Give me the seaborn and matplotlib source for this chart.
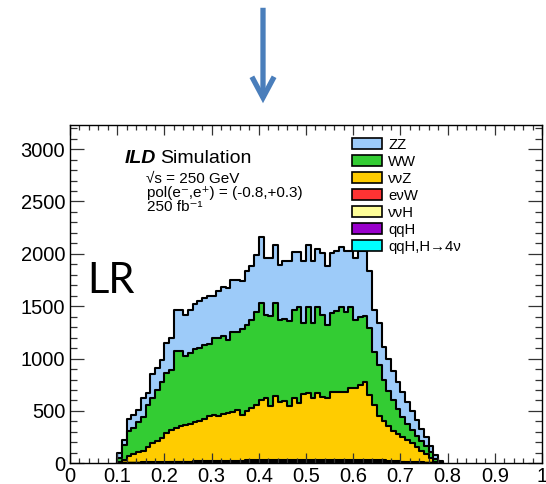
import numpy as np
import pandas as pd
import matplotlib
matplotlib.use("Agg")
import matplotlib.pyplot as plt
import seaborn as sns
from matplotlib.patches import Patch, FancyArrowPatch, ArrowStyle
from matplotlib.ticker import MultipleLocator, FixedLocator

# ---------------- data (stack heights) ----------------
bin_lo, bin_hi, n_bins = 0.10, 0.79, 69

zz_stack = [96, 223, 423, 462, 510, 621, 669, 851, 908, 988,
            1147, 1195, 1466, 1466, 1418, 1466, 1523, 1545, 1583, 1599,
            1599, 1641, 1688, 1673, 1752, 1752, 1736, 1832, 1880, 1991,
            2161, 1960, 1960, 2087, 1896, 1927, 1927, 2013, 2013, 1927,
            2087, 1927, 2046, 2008, 1880, 2008, 2023, 2065, 2023, 2023,
            1960, 2023, 2023, 1832, 1466, 1338, 1115, 1000, 880, 780,
            680, 590, 500, 410, 325, 255, 165, 75, 18]

ww_stack = [54, 175, 309, 340, 398, 446, 557, 621, 700, 780,
            860, 892, 1070, 1070, 1020, 1055, 1095, 1105, 1130, 1135,
            1195, 1195, 1211, 1179, 1249, 1258, 1281, 1322, 1370, 1440,
            1535, 1418, 1402, 1535, 1370, 1374, 1360, 1466, 1497, 1338,
            1490, 1338, 1490, 1418, 1320, 1434, 1450, 1491, 1440, 1491,
            1370, 1396, 1402, 1290, 1060, 940, 800, 690, 600, 520,
            440, 380, 320, 265, 215, 165, 110, 45, 8]

nnz_stack = [10, 32, 73, 86, 105, 118, 159, 191, 213, 239,
             287, 318, 340, 359, 366, 372, 391, 404, 423, 455,
             462, 455, 468, 478, 493, 510, 462, 503, 526, 557,
             605, 621, 551, 646, 589, 594, 551, 627, 573, 660,
             670, 621, 670, 637, 621, 685, 680, 685, 680, 717,
             723, 749, 774, 653, 557, 450, 400, 355, 305, 280,
             248, 222, 190, 152, 120, 85, 50, 15, 3]

enw_stack = [2, 3, 5, 6, 7, 8, 9, 10, 11, 12,
             13, 14, 15, 16, 16, 17, 18, 19, 20, 21,
             22, 23, 23, 24, 25, 25, 26, 27, 27, 28,
             29, 29, 30, 30, 31, 31, 32, 32, 33, 33,
             33, 34, 34, 34, 35, 35, 35, 36, 36, 36,
             36, 36, 35, 34, 32, 30, 27, 25, 22, 20,
             17, 15, 13, 11, 9, 7, 5, 3, 1]

nnh_stack = [1, 2, 3, 4, 4, 5, 5, 6, 6, 7,
             7, 8, 8, 9, 9, 10, 10, 11, 11, 12,
             12, 13, 13, 14, 14, 15, 15, 16, 16, 17,
             17, 18, 18, 19, 19, 20, 20, 21, 21, 22,
             22, 22, 23, 23, 23, 24, 24, 24, 25, 25,
             25, 25, 24, 22, 20, 18, 16, 14, 12, 10,
             8, 7, 6, 5, 4, 3, 2, 1, 1]

qqh_stack = [0, 1, 1, 1, 1, 1, 2, 2, 2, 2,
             2, 2, 2, 3, 3, 3, 3, 3, 3, 3,
             3, 3, 3, 3, 3, 3, 3, 3, 3, 3,
             3, 3, 3, 3, 3, 3, 3, 3, 3, 3,
             3, 3, 3, 3, 3, 3, 3, 3, 3, 3,
             3, 3, 3, 3, 3, 2, 2, 2, 2, 2,
             2, 1, 1, 1, 1, 1, 1, 0, 0]

qqh4nu_stack = [0, 0, 1, 1, 1, 1, 1, 1, 1, 1,
                1, 1, 1, 1, 1, 1, 1, 1, 1, 1,
                1, 1, 1, 1, 1, 1, 1, 1, 1, 1,
                1, 1, 1, 1, 1, 1, 1, 1, 1, 1,
                1, 1, 1, 1, 1, 1, 1, 1, 1, 1,
                1, 1, 1, 1, 1, 1, 1, 1, 1, 1,
                1, 1, 1, 1, 1, 0, 0, 0, 0]

labels = ["ZZ", "WW", "ννZ", "eνW", "ννH", "qqH", "qqH,H→4ν"]
colors = ["#9DCBF9", "#33CC33", "#FFCC00", "#FF3333", "#FFFF99", "#9900CC", "#00FFFF"]
stacks = [zz_stack, ww_stack, nnz_stack, enw_stack, nnh_stack, qqh_stack, qqh4nu_stack]

x_ticks = [0, 0.1, 0.2, 0.3, 0.4, 0.5, 0.6, 0.7, 0.8, 0.9, 1.0]
x_ticklabels = ["0", "0.1", "0.2", "0.3", "0.4", "0.5", "0.6", "0.7", "0.8", "0.9", "1"]
y_ticks = [0, 500, 1000, 1500, 2000, 2500, 3000]

# ---------------- style ----------------
sns.set_theme(style="ticks")
plt.rcParams["font.family"] = ["Liberation Sans", "DejaVu Sans"]
plt.rcParams["text.color"] = "black"
plt.rcParams["xtick.labelcolor"] = "black"
plt.rcParams["ytick.labelcolor"] = "black"

W, H = 546, 484
fig = plt.figure(figsize=(W / 100, H / 100), dpi=100)
fig.patch.set_facecolor("white")
ax = fig.add_axes([70 / W, (H - 463.3) / H, 472 / W, 338.8 / H])
ax.set_facecolor("white")

edges = np.linspace(bin_lo, bin_hi, n_bins + 1)
centers = (edges[:-1] + edges[1:]) / 2
for vals, col in zip(stacks, colors):
    df = pd.DataFrame({"x": centers, "w": np.asarray(vals, dtype=float)})
    sns.histplot(data=df, x="x", weights="w", bins=n_bins, binrange=(bin_lo, bin_hi),
                 element="step", fill=True, color=col, edgecolor="black",
                 linewidth=1.5, alpha=1, ax=ax)

ax.set_xlim(0, 1)
ax.set_ylim(0, 3235)
ax.set_xlabel("")
ax.set_ylabel("")
ax.xaxis.set_major_locator(FixedLocator(x_ticks))
ax.set_xticklabels(x_ticklabels)
ax.xaxis.set_minor_locator(MultipleLocator(0.02))
ax.yaxis.set_major_locator(FixedLocator(y_ticks))
ax.set_yticklabels([str(v) for v in y_ticks])
ax.yaxis.set_minor_locator(MultipleLocator(100))
ax.set_axisbelow(False)
ax.tick_params(axis="both", which="both", direction="in", top=True, right=True,
               color="#333333", width=0.9, labelsize=14.5, labelcolor="black")
ax.tick_params(axis="y", which="major", length=10, pad=3.5)
ax.tick_params(axis="y", which="minor", length=5)
ax.tick_params(axis="x", which="major", length=7.3, pad=3)
ax.tick_params(axis="x", which="minor", length=3.6)
for s in ax.spines.values():
    s.set_visible(True)
    s.set_color("black")
    s.set_linewidth(1.0)
    s.set_zorder(10)

# legend
handles = [Patch(facecolor=c, edgecolor="black", linewidth=1.2) for c in colors]
ax.legend(handles, labels, loc="upper left", bbox_to_anchor=(0.597, 0.96),
          frameon=False, borderpad=0, borderaxespad=0, handlelength=2.0,
          handleheight=0.75, handletextpad=0.45, labelspacing=0.2, fontsize=10.7,
          labelcolor="black")

# texts
def fx(px):
    return px / W

def fy(py):
    return 1 - py / H

fig.text(fx(125), fy(162.7), "ILD", fontsize=14, fontweight="bold", fontstyle="italic",
         va="baseline", ha="left")
fig.text(fx(160), fy(162.7), "Simulation", fontsize=14, va="baseline", ha="left")
fig.text(fx(146), fy(183), "√s = 250 GeV", fontsize=11, va="baseline", ha="left")
fig.text(fx(147), fy(197), "pol(e⁻,e⁺) = (-0.8,+0.3)", fontsize=11, va="baseline", ha="left")
fig.text(fx(147), fy(211), "250 fb⁻¹", fontsize=11, va="baseline", ha="left")
fig.text(fx(87), fy(293), "LR", fontsize=30, fontfamily=["Lato", "DejaVu Sans"],
         va="baseline", ha="left")

# arrow above the plot
arrow = FancyArrowPatch((fx(263), fy(5)), (fx(263), fy(106)), transform=fig.transFigure,
                        arrowstyle=ArrowStyle("->", head_length=0.75, head_width=0.4),
                        mutation_scale=20, color="#4A7EBB", linewidth=3.8,
                        capstyle="butt", joinstyle="miter")
fig.add_artist(arrow)

fig.savefig("out.png", dpi=100, facecolor="white")
